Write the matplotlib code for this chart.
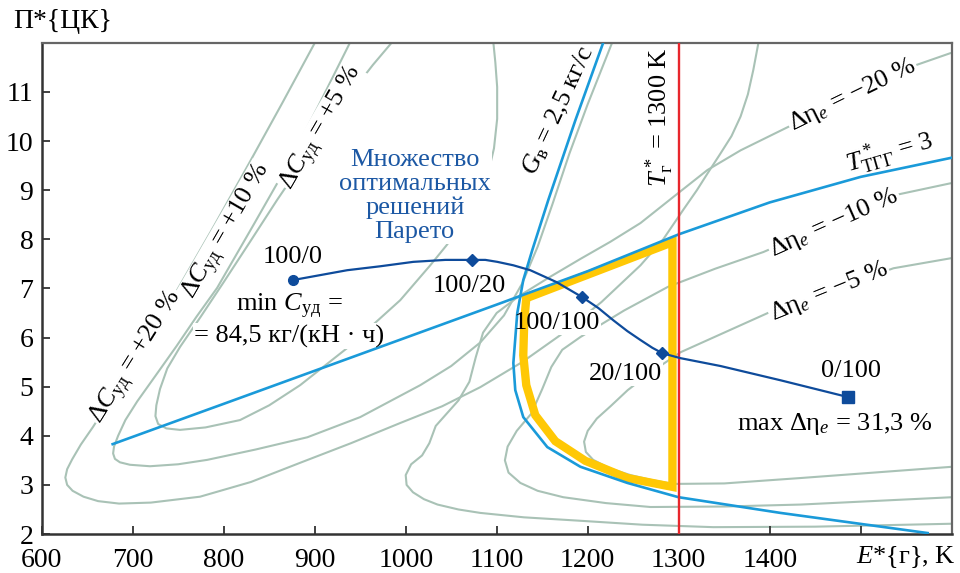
import matplotlib
matplotlib.use("Agg")
import matplotlib.pyplot as plt

plt.rcParams['font.family'] = ['Liberation Serif', 'DejaVu Serif']
plt.rcParams['mathtext.fontset'] = 'custom'
plt.rcParams['mathtext.rm'] = 'Liberation Serif'
plt.rcParams['mathtext.it'] = 'Liberation Serif:italic'

GRAY = '#a9c2b6'
BLUE = '#1a9ad9'
DARK = '#0e4b9b'
RED = '#e8262c'
YELLOW = '#ffc805'

# --- specific cost contours (dC_ud) ---
dc20_x = [900.5, 864, 826.8, 790, 752.1, 725, 697.1, 675, 656.4, 643, 633.5, 628, 626, 628, 634,
          646, 662, 685, 720, 774, 830, 884, 940, 994, 1040, 1082, 1128, 1170, 1215, 1258, 1283,
          1305, 1320, 1332, 1345, 1358, 1368, 1376, 1382, 1387.7]
dc20_y = [12.01, 10.76, 9.51, 8.29, 7.07, 6.2, 5.34, 4.72, 4.18, 3.82, 3.52, 3.32, 3.15, 3.0, 2.88,
          2.76, 2.67, 2.62, 2.64, 2.76, 3.06, 3.45, 3.85, 4.26, 4.6, 4.99, 5.5, 6.05, 6.72, 7.47, 8.0,
          8.6, 9.0, 9.35, 9.72, 10.1, 10.5, 10.95, 11.45, 12.01]
dc10_x = [939, 905, 873, 833, 792.8, 770, 748, 725, 705, 692, 684, 679.5, 678.5, 680.5, 686, 697,
          719, 750, 782, 835, 892, 950, 1016, 1050, 1082, 1108, 1128, 1145, 1161, 1180, 1200, 1227]
dc10_y = [12.01, 10.75, 9.6, 8.3, 7.01, 6.42, 5.82, 5.22, 4.7, 4.32, 4.0, 3.78, 3.64, 3.53, 3.46, 3.41,
          3.38, 3.42, 3.51, 3.72, 3.97, 4.38, 5.03, 5.42, 5.9, 6.45, 7.1, 7.85, 8.7, 9.75, 10.75, 12.01]
dc5_x = [985, 964, 940, 917, 888, 858.7, 829, 799.4, 775, 752.1, 738, 730, 726, 725, 728, 737, 752,
         780, 818, 850, 884, 936, 994, 1027, 1045, 1063, 1078, 1090, 1097, 1100.5, 1100.5, 1098.5, 1096.3]
dc5_y = [12.01, 11.55, 10.98, 10.42, 9.6, 8.8, 7.95, 7.11, 6.43, 5.81, 5.37, 4.95, 4.62, 4.4, 4.24, 4.15,
         4.12, 4.17, 4.32, 4.62, 5.03, 5.79, 6.76, 7.47, 7.88, 8.33, 8.8, 9.3, 9.85, 10.45, 11.1, 11.6, 12.01]

# --- efficiency contours (d eta_e) ---
de20_x = [1598.8, 1560, 1417.3, 1368, 1331.6, 1294, 1258, 1225, 1192, 1160, 1125, 1100, 1085, 1077,
          1070, 1058, 1045, 1033, 1026, 1018, 1006, 1000, 1001, 1008, 1020, 1035, 1058, 1082, 1130,
          1192, 1260, 1338, 1450, 1601]
de20_y = [11.79, 11.54, 10.26, 9.81, 9.41, 8.86, 8.33, 7.95, 7.6, 7.25, 6.85, 6.5, 6.1, 5.6,
          5.1, 4.72, 4.45, 4.2, 3.85, 3.6, 3.42, 3.2, 3.0, 2.85, 2.71, 2.6, 2.5, 2.43, 2.34,
          2.27, 2.19, 2.14, 2.15, 2.21]
de10_x = [1598.8, 1538, 1393, 1340, 1288, 1240, 1192, 1172, 1160, 1150, 1138, 1122, 1112, 1109, 1113,
          1126, 1145, 1173, 1220, 1269, 1350, 1434, 1601]
de10_y = [9.14, 8.9, 7.74, 7.4, 7.03, 6.55, 6.01, 5.75, 5.4, 4.95, 4.45, 4.1, 3.78, 3.5, 3.25,
          3.04, 2.88, 2.75, 2.63, 2.55, 2.56, 2.6, 2.75]
de5_x = [1601, 1536, 1398, 1350, 1302, 1270, 1244, 1225, 1210, 1200, 1196, 1198, 1206, 1225, 1247,
         1270, 1294, 1350, 1434, 1601]
de5_y = [7.62, 7.41, 6.5, 6.1, 5.7, 5.3, 4.93, 4.6, 4.35, 4.1, 3.88, 3.67, 3.51, 3.33, 3.2,
         3.1, 3.02, 3.03, 3.14, 3.37]

# --- constraints ---
ttgg_x = [678, 800, 950, 1100, 1200, 1300, 1400, 1500, 1600]
ttgg_y = [3.83, 4.65, 5.66, 6.67, 7.35, 8.10, 8.75, 9.27, 9.66]
gb_x = [1217.2, 1186.4, 1156.7, 1139.1, 1129.2, 1122.6, 1118.3, 1120.4, 1129.2, 1155.6, 1191.9,
        1243.6, 1299.7, 1411.8, 1573.5]
gb_y = [12.01, 10.42, 8.80, 7.78, 7.17, 6.50, 5.48, 4.93, 4.38, 3.77, 3.37,
        3.04, 2.75, 2.43, 2.02]
t_gas = 1300

# feasible region outline
feas_x = [1132.5, 1293.1, 1293.1, 1243.6, 1197.4, 1164.4, 1142.4, 1132.5, 1129.2, 1130.3, 1132.5]
feas_y = [6.80, 7.94, 2.96, 3.14, 3.49, 3.89, 4.42, 5.03, 5.64, 6.35, 6.80]

# Pareto front
par_x = [876.3, 906.0, 935.7, 972.0, 1008.3, 1043.5, 1073.2, 1087.5, 1100.7, 1118.3, 1136.9,
         1165.5, 1194.1, 1211.7, 1228.2, 1243.6, 1257.9, 1271.1, 1282.1, 1301.9, 1345.9,
         1411.8, 1485.5]
par_y = [7.17, 7.27, 7.37, 7.45, 7.54, 7.58, 7.58, 7.58, 7.54, 7.47, 7.37,
         7.13, 6.82, 6.60, 6.35, 6.13, 5.95, 5.79, 5.68, 5.58, 5.42,
         5.13, 4.79]
key_x = [876.3, 1073.2, 1194.1, 1282.1, 1485.5]
key_y = [7.17, 7.58, 6.82, 5.68, 4.79]
key_lbl = ['100/0', '100/20', '100/100', '20/100', '0/100']
lbl_x = [876, 1070, 1166, 1241, 1489]
lbl_y = [7.64, 7.05, 6.30, 5.26, 5.32]

fig = plt.figure(figsize=(9.6, 5.73), dpi=100)
ax = fig.add_axes([0.0434, 0.068, 0.948, 0.8574])

for xs, ys in [(dc20_x, dc20_y), (dc10_x, dc10_y), (dc5_x, dc5_y),
               (de20_x, de20_y), (de10_x, de10_y), (de5_x, de5_y)]:
    ax.plot(xs, ys, color=GRAY, lw=1.5, zorder=1, solid_capstyle='round', solid_joinstyle='round')

ax.plot(feas_x, feas_y, color=YELLOW, lw=6, zorder=3, solid_joinstyle='miter')
ax.plot(ttgg_x, ttgg_y, color=BLUE, lw=1.9, zorder=4)
ax.plot(gb_x, gb_y, color=BLUE, lw=1.9, zorder=4)
ax.axvline(t_gas, color=RED, lw=1.7, zorder=4)

ax.plot(par_x, par_y, color=DARK, lw=1.6, zorder=5)
ax.plot(key_x[0], key_y[0], 'o', color=DARK, ms=7, zorder=6)
ax.plot(key_x[1:4], key_y[1:4], 'D', color=DARK, ms=6.5, zorder=6)
ax.plot(key_x[4], key_y[4], 's', color=DARK, ms=9, zorder=6)

wb = dict(facecolor='white', edgecolor='none', pad=1.0)
wb_thin = dict(facecolor='white', edgecolor='none', pad=0.2)
fs = 19


def label(x, y, t, rot=0, color='black', box=wb, **kw):
    # white patch under the text cuts the grey contours, the text itself sits on top
    ax.text(x, y, t, fontsize=fs, rotation=rot, ha='center', va='center', color='white',
            rotation_mode='anchor', zorder=2, bbox=box, **kw)
    ax.text(x, y, t, fontsize=fs, rotation=rot, ha='center', va='center', color=color,
            rotation_mode='anchor', zorder=7, **kw)


for x, y, t in zip(lbl_x, lbl_y, key_lbl):
    label(x, y, t)

label(872, 6.64, 'min $C_{\\mathrm{уд}}$ =')
label(872, 6.03, '= 84,5 кг/(кН · ч)')
label(1472, 4.24, 'max Δη$_e$ = 31,3 %')
label(1010, 8.88, 'Множество\nоптимальных\nрешений\nПарето', color='#1c58a4', linespacing=1.1)

label(705, 5.60, 'Δ$C_{\\mathrm{уд}}$ = +20 %', rot=58)
label(804, 8.15, 'Δ$C_{\\mathrm{уд}}$ = +10 %', rot=60, box=wb_thin)
label(908, 10.26, 'Δ$C_{\\mathrm{уд}}$ = +5 %', rot=60, box=wb_thin)
label(1168, 10.63, '$G_{\\mathrm{в}}$ = 2,5 кг/с', rot=65)
label(1279, 10.49, '$T^*_{\\mathrm{г}}$ = 1300 K', rot=90)
label(1491, 10.93, 'Δη$_e$ = −20 %', rot=26)
label(1532, 9.77, '$T^*_{\\mathrm{ТГГ}}$ = 3', rot=16)
label(1471, 8.33, 'Δη$_e$ = −10 %', rot=24)
label(1465, 6.93, 'Δη$_e$ = −5 %', rot=22)

ax.set_xlim(600, 1600)
ax.set_ylim(2, 12)
ax.set_xticks(range(600, 1600, 100))
ax.set_xticklabels([str(v) for v in range(600, 1500, 100)] + [''])
ax.set_yticks(range(2, 13))
ax.set_yticklabels([str(v) for v in range(2, 12)] + [''])
ax.tick_params(direction='in', length=6, width=1.3, labelsize=20, color='#333333')
ax.tick_params(axis='x', pad=10)
ax.tick_params(axis='y', pad=6)

for s in ['left', 'bottom']:
    ax.spines[s].set_linewidth(1.8)
    ax.spines[s].set_color('#333333')
for s in ['top', 'right']:
    ax.spines[s].set_linewidth(1.6)
    ax.spines[s].set_color('#666666')

ax.text(1.004, -0.046, '$E$*{г}, K', transform=ax.transAxes, fontsize=19,
        ha='right', va='center')
fig.text(0.014, 0.962, 'П*{ЦК}', fontsize=20, ha='left', va='center')

fig.savefig('out.png', dpi=100)
